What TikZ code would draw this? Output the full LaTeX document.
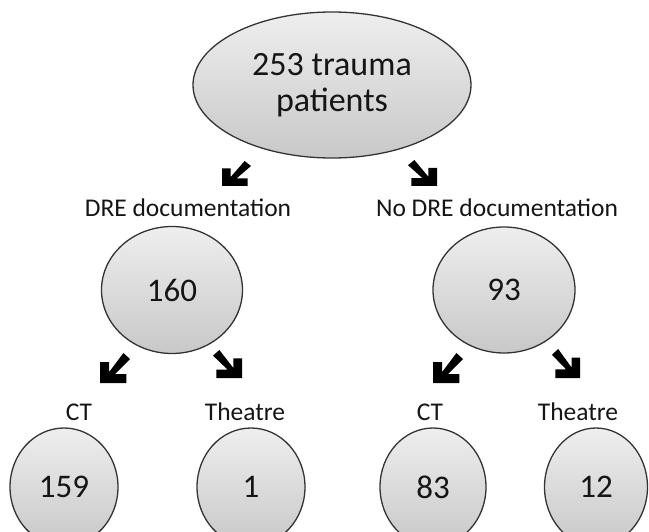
\documentclass[tikz,border=0pt]{standalone}
\usepackage{fontspec}
\setmainfont{Carlito}
\usetikzlibrary{shapes.geometric}
\definecolor{edgegray}{HTML}{333333}
\definecolor{shtop}{HTML}{EEEEEE}
\definecolor{shbot}{HTML}{C8C8C8}
\definecolor{txt}{HTML}{151515}
\tikzset{
  bubble/.style={ellipse, draw=edgegray, line width=1.3pt, top color=shtop, bottom color=shbot,
    inner sep=0pt, text=txt, font=\fontsize{33}{37}\selectfont, align=center},
  lbl/.style={anchor=base, inner sep=0pt, text=txt, font=\fontsize{25.5}{28}\selectfont},
  bentarrow/.pic={\fill[black] (0,0) -- (0,-0.70) -- (0.30,-0.70) -- (0.30,-0.36)
     -- (0.78,-1.0) -- (1.0,-0.80) -- (0.50,-0.30) -- (0.88,-0.30) -- (0.88,0) -- cycle;}
}
\begin{document}
\begin{tikzpicture}[x=1pt,y=-1pt]
\useasboundingbox (0,0) rectangle (649,532);
\clip (0,0) rectangle (649,532);
% nodes
\node[bubble, minimum width=278pt, minimum height=146pt, font=\fontsize{34}{36}\selectfont] (root) at (332,85) {253 trauma\\patients};
\node[bubble, minimum width=141pt, minimum height=127pt] (dre) at (172,290) {160};
\node[bubble, minimum width=142pt, minimum height=126pt] (nodre) at (504,290) {93};
\node[bubble, minimum width=108pt, minimum height=118pt] (ct1) at (64,487) {159};
\node[bubble, minimum width=108pt, minimum height=118pt] (th1) at (251,487) {1};
\node[bubble, minimum width=106pt, minimum height=118pt] (ct2) at (433,487) {83};
\node[bubble, minimum width=103pt, minimum height=118pt] (th2) at (596,487) {12};
% labels
\node[lbl] (ldre) at (188,217) {DRE documentation};
\node[lbl] (lnodre) at (497,217) {No DRE documentation};
\node[lbl] (lct1) at (79,420) {CT};
\node[lbl] (lth1) at (245,420) {Theatre};
\node[lbl] (lct2) at (430,420) {CT};
\node[lbl] (lth2) at (578,420) {Theatre};
% arrows
\pic[xscale=29, yscale=25] at (222,186) {bentarrow};
\pic[xscale=-29, yscale=26] at (437,186) {bentarrow};
\pic[xscale=30, yscale=30] at (100,383) {bentarrow};
\pic[xscale=-29, yscale=28] at (242,378) {bentarrow};
\pic[xscale=30, yscale=30] at (433,383) {bentarrow};
\pic[xscale=-28, yscale=29] at (580,378) {bentarrow};
\end{tikzpicture}
\end{document}
